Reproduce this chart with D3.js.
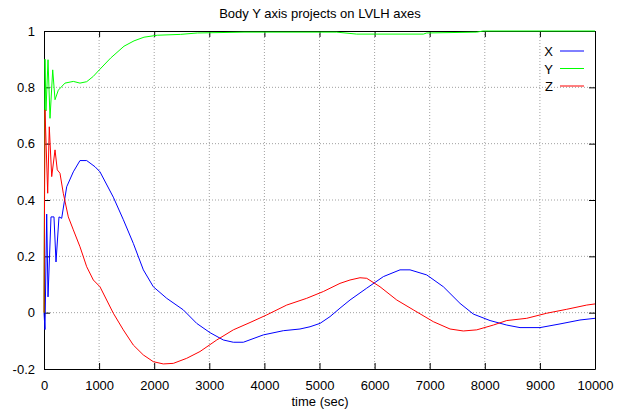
<!DOCTYPE html>
<html>
<head>
<meta charset="utf-8">
<script src="https://cdn.jsdelivr.net/npm/d3@7"></script>
<style>
  body { margin: 0; background: #fff; }
  text { font-family: "Liberation Sans", Arial, sans-serif; }
</style>
</head>
<body>
<svg id="chart"></svg>
<script>
// values, time in seconds
var xTime = [0, 18, 49, 73, 127, 181, 218, 272, 321, 412, 532, 653, 775, 926, 1016, 1258, 1440, 1621, 1803, 1984, 2227, 2528, 2771, 3013, 3255, 3436, 3618, 3980, 4343, 4646, 4828, 5010, 5191, 5372, 5554, 5857, 6159, 6461, 6643, 6946, 7248, 7550, 7792, 8095, 8398, 8639, 9002, 9365, 9728, 10000];
var xVal = [0, -0.06, 0.35, 0.056, 0.34, 0.34, 0.18, 0.34, 0.335, 0.447, 0.50, 0.54, 0.54, 0.518, 0.50, 0.41, 0.33, 0.246, 0.152, 0.092, 0.051, 0.01, -0.038, -0.071, -0.097, -0.105, -0.105, -0.079, -0.064, -0.058, -0.05, -0.038, -0.014, 0.016, 0.045, 0.087, 0.128, 0.152, 0.152, 0.134, 0.092, 0.033, -0.005, -0.028, -0.044, -0.053, -0.053, -0.04, -0.026, -0.02];

var yTime = [0, 18, 36, 73, 109, 158, 200, 260, 381, 532, 653, 775, 895, 1004, 1210, 1452, 1634, 1815, 2057, 2480, 2783, 3630, 5312, 5675, 6885, 6946, 7853, 7968, 10000];
var yVal = [0, 0.90, 0.716, 0.898, 0.69, 0.862, 0.756, 0.79, 0.815, 0.821, 0.815, 0.82, 0.839, 0.862, 0.904, 0.946, 0.965, 0.978, 0.985, 0.988, 0.993, 0.996, 0.996, 0.989, 0.989, 0.993, 0.996, 1.0, 1.0];

var zTime = [0, 18, 67, 96, 140, 200, 241, 290, 350, 441, 532, 653, 775, 895, 1016, 1258, 1439, 1621, 1802, 1984, 2165, 2347, 2590, 2831, 3135, 3436, 3739, 4042, 4405, 4768, 5069, 5372, 5554, 5735, 5857, 6098, 6402, 6703, 7066, 7369, 7610, 7854, 8155, 8398, 8761, 9124, 9487, 9850, 10000];
var zVal = [0, 0.72, 0.424, 0.66, 0.483, 0.578, 0.507, 0.495, 0.424, 0.34, 0.294, 0.234, 0.163, 0.116, 0.092, -0.002, -0.061, -0.115, -0.15, -0.174, -0.182, -0.18, -0.162, -0.138, -0.097, -0.061, -0.035, -0.008, 0.027, 0.051, 0.075, 0.104, 0.116, 0.124, 0.122, 0.092, 0.045, 0.01, -0.032, -0.058, -0.065, -0.061, -0.044, -0.028, -0.02, -0.002, 0.012, 0.027, 0.031];

var xTicks = [0, 1000, 2000, 3000, 4000, 5000, 6000, 7000, 8000, 9000, 10000];
var yTicks = [-0.2, 0, 0.2, 0.4, 0.6, 0.8, 1];

var series = [
  { name: "X", t: xTime, v: xVal, color: "#0000ff" },
  { name: "Y", t: yTime, v: yVal, color: "#00ff00" },
  { name: "Z", t: zTime, v: zVal, color: "#ff0000" }
];

var W = 623, H = 412;
var m = { left: 44, right: 28, top: 31, bottom: 43 };

var svg = d3.select("#chart").attr("width", W).attr("height", H);

var x = d3.scaleLinear().domain([0, 10000]).range([m.left, W - m.right]);
var y = d3.scaleLinear().domain([-0.2, 1]).range([H - m.bottom, m.top]);

// grid
svg.append("g").selectAll("line").data(xTicks.slice(1, -1)).enter().append("line")
  .attr("x1", d => x(d)).attr("x2", d => x(d))
  .attr("y1", y(1)).attr("y2", y(-0.2))
  .attr("stroke", "#a0a0a0").attr("stroke-width", 1).attr("stroke-dasharray", "1,2")
svg.append("g").selectAll("line").data(yTicks.slice(1, -1)).enter().append("line")
  .attr("y1", d => y(d)).attr("y2", d => y(d))
  .attr("x1", x(0)).attr("x2", x(10000))
  .attr("stroke", "#a0a0a0").attr("stroke-width", 1).attr("stroke-dasharray", "1,2")

// axes, ticks inward on all four sides like gnuplot
var axBottom = d3.axisBottom(x).tickValues(xTicks).tickSizeInner(-6).tickSizeOuter(0).tickPadding(12)
  .tickFormat(d3.format("d"))
var axLeft = d3.axisLeft(y).tickValues(yTicks).tickSizeInner(-6).tickSizeOuter(0).tickPadding(9)
  .tickFormat(d => String(+d.toFixed(1)))
var axTop = d3.axisTop(x).tickValues(xTicks).tickSizeInner(-6).tickSizeOuter(0).tickFormat("")
var axRight = d3.axisRight(y).tickValues(yTicks).tickSizeInner(-6).tickSizeOuter(0).tickFormat("")

svg.append("g").attr("transform", "translate(0," + y(-0.2) + ")").call(axBottom)
svg.append("g").attr("transform", "translate(" + x(0) + ",0)").call(axLeft)
svg.append("g").attr("transform", "translate(0," + y(1) + ")").call(axTop)
svg.append("g").attr("transform", "translate(" + x(10000) + ",0)").call(axRight)
svg.selectAll(".domain").attr("stroke", "#000")
svg.selectAll(".tick line").attr("stroke", "#000")
svg.selectAll(".tick text").attr("fill", "#000").style("font-size", "13px")
  .style("font-family", "Liberation Sans, Arial, sans-serif")

// curves
var line = d3.line().x(d => x(d[0])).y(d => y(d[1]))
series.forEach(function(s) {
  svg.append("path")
    .datum(s.t.map((t, i) => [t, s.v[i]]))
    .attr("d", line)
    .attr("fill", "none")
    .attr("stroke", s.color)
    .attr("stroke-width", 1)
})

// legend
var key = svg.append("g").selectAll("g").data(series).enter().append("g")
  .attr("transform", (d, i) => "translate(0," + (51 + i * 17.5) + ")")
key.append("text").text(d => d.name)
  .attr("x", 553).attr("y", 5).attr("text-anchor", "end").style("font-size", "13px")
key.append("line").attr("x1", 560).attr("x2", 584).attr("y1", 0).attr("y2", 0)
  .attr("stroke", d => d.color).attr("stroke-width", 1)

// title and label
svg.append("text").text("Body Y axis projects on LVLH axes")
  .attr("x", 320).attr("y", 18).attr("text-anchor", "middle").style("font-size", "13px")
svg.append("text").text("time (sec)")
  .attr("x", 320).attr("y", 406).attr("text-anchor", "middle").style("font-size", "13px")
</script>
</body>
</html>
